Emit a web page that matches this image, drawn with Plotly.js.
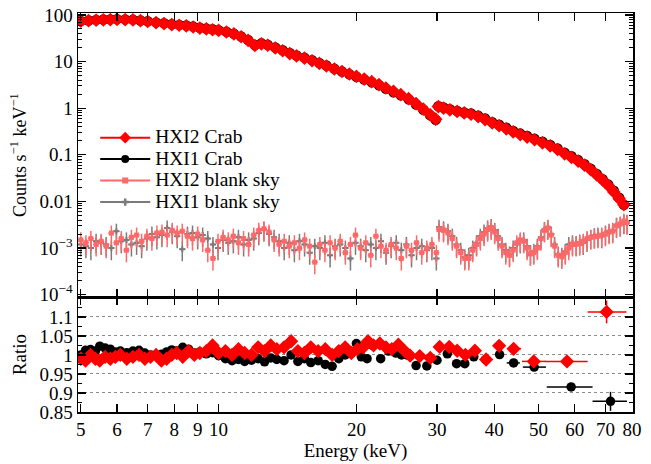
<!DOCTYPE html>
<html>
<head>
<meta charset="utf-8">
<script src="https://cdn.plot.ly/plotly-3.0.1.min.js"></script>
<style>html,body{margin:0;padding:0;background:#fff;}#chart{width:651px;height:464px;}</style>
</head>
<body>
<div id="chart"></div>
<script>
// ---------- Crab spectra (top panel) ----------
const crabEnergy = [5.0,5.2,5.4,5.6,5.8,6.0,6.25,6.5,6.75,7.0,7.3,7.6,7.9,8.2,8.5,8.8,9.1,9.4,9.7,10.0,10.4,10.8,11.2,11.6,12.0,12.4,12.8,13.3,13.8,14.3,14.8,15.4,16.0,16.6,17.2,17.9,18.6,19.3,20.0,20.8,21.6,22.4,23.2,24.1,25.0,26.0,27.0,28.0,29.0,29.8,30.2,31.0,32.0,33.2,34.4,35.6,36.9,38.2,39.6,41.0,42.5,44.0,45.6,47.2,49.0,51.0,53.0,55.0,57.0,59.0,61.0,63.0,65.0,67.0,69.0,71.0,73.0,75.0,76.8];
const hxi2Crab = [73,75,77,78,79,80,79,78,75,72,68,65,62,60,58,55,52,50,48,46.5,43,39,34,28.5,22,23.8,22.3,19.5,17,14.8,13.2,11.8,10.4,9.1,8.0,6.9,6.1,5.4,4.8,4.2,3.7,3.2,2.7,2.3,1.95,1.6,1.25,0.95,0.72,0.58,1.08,1.0,0.92,0.85,0.79,0.74,0.66,0.57,0.48,0.42,0.36,0.31,0.27,0.24,0.21,0.18,0.155,0.13,0.105,0.088,0.073,0.060,0.048,0.037,0.029,0.022,0.016,0.0115,0.0085];
const hxi1Crab = [74,76,78,79.5,80,81,80,79,76,73,69,66,63,61,59,56,53,51,49,47,43.5,39.5,34.5,29,22.5,24.5,22.8,20,17.4,15.2,13.5,12.1,10.7,9.3,8.2,7.0,6.1,5.35,4.7,4.1,3.6,3.1,2.6,2.2,1.88,1.55,1.2,0.92,0.70,0.56,1.1,1.03,0.95,0.87,0.81,0.77,0.69,0.6,0.5,0.44,0.38,0.325,0.285,0.253,0.22,0.19,0.163,0.137,0.111,0.093,0.077,0.063,0.05,0.039,0.03,0.023,0.017,0.012,0.0085];

// ---------- Blank sky spectra (top panel) ----------
const skyEnergy = [5.0,5.13,5.26,5.4,5.54,5.68,5.83,5.98,6.13,6.29,6.45,6.62,6.79,6.97,7.15,7.33,7.52,7.72,7.92,8.12,8.33,8.55,8.77,9.0,9.23,9.47,9.72,9.97,10.23,10.5,10.77,11.05,11.34,11.63,11.93,12.24,12.56,12.89,13.22,13.56,13.91,14.27,14.64,15.02,15.41,15.81,16.22,16.64,17.07,17.52,17.97,18.44,18.92,19.41,19.91,20.43,20.96,21.5,22.06,22.63,23.22,23.82,24.44,25.07,25.72,26.39,27.07,27.78,28.5,29.24,29.9,
  30.3,31.0,31.7,32.4,33.1,33.8,34.5,35.2,35.9,36.6,37.3,38.0,38.7,39.4,40.1,40.8,41.6,42.4,43.2,44.0,44.8,45.6,46.4,47.2,48.0,48.8,49.7,50.6,51.5,52.4,53.3,54.2,55.2,56.2,57.2,58.2,59.3,60.4,61.5,62.6,63.8,65.0,66.2,67.4,68.7,70.0,71.3,72.6,74.0,75.4,76.8,78.0];
const hxi2Sky = [1.5e-3,1.3e-3,1.6e-3,1.2e-3,1.4e-3,1.1e-3,2.1e-3,1.3e-3,1.6e-3,0.9e-3,1.7e-3,1.9e-3,1.4e-3,1.8e-3,1.6e-3,2.1e-3,2.2e-3,1.9e-3,2.4e-3,2.1e-3,2.3e-3,1.8e-3,1.6e-3,2.0e-3,1.5e-3,0.9e-3,0.6e-3,1.4e-3,1.7e-3,1.5e-3,1.8e-3,1.3e-3,1.6e-3,1.2e-3,1.9e-3,2.4e-3,2.6e-3,2.2e-3,1.5e-3,1.2e-3,1.4e-3,1.1e-3,1.3e-3,1.0e-3,1.5e-3,1.1e-3,0.5e-3,1.2e-3,0.9e-3,1.3e-3,1.0e-3,1.4e-3,0.8e-3,1.2e-3,1.9e-3,1.0e-3,1.3e-3,0.7e-3,1.8e-3,1.1e-3,0.9e-3,1.2e-3,1.0e-3,0.6e-3,1.1e-3,0.9e-3,1.3e-3,0.8e-3,1.0e-3,1.2e-3,0.8e-3,
  2.5e-3,2.4e-3,2.1e-3,1.6e-3,1.1e-3,0.8e-3,0.6e-3,0.6e-3,0.9e-3,1.2e-3,1.6e-3,2.0e-3,2.5e-3,2.7e-3,2.2e-3,1.6e-3,1.1e-3,0.8e-3,0.7e-3,0.9e-3,1.3e-3,1.5e-3,1.4e-3,1.0e-3,0.75e-3,0.8e-3,1.0e-3,1.6e-3,2.4e-3,2.7e-3,1.9e-3,1.1e-3,0.7e-3,0.65e-3,0.8e-3,1.0e-3,1.2e-3,1.2e-3,1.25e-3,1.4e-3,1.6e-3,1.7e-3,1.75e-3,1.8e-3,1.9e-3,2.0e-3,2.2e-3,2.3e-3,3.0e-3,3.3e-3,3.8e-3,3.5e-3];
const hxi1Sky = [1.2e-3,1.1e-3,1.0e-3,1.4e-3,1.3e-3,1.2e-3,1.0e-3,2.3e-3,1.4e-3,1.5e-3,1.2e-3,1.3e-3,1.1e-3,1.6e-3,2.0e-3,1.7e-3,1.9e-3,2.7e-3,2.2e-3,1.8e-3,0.95e-3,2.0e-3,2.1e-3,1.7e-3,1.9e-3,1.6e-3,1.2e-3,1.0e-3,1.5e-3,1.3e-3,1.4e-3,1.7e-3,1.2e-3,1.5e-3,1.6e-3,2.1e-3,2.5e-3,2.0e-3,1.7e-3,1.4e-3,1.0e-3,1.3e-3,0.9e-3,1.4e-3,1.2e-3,0.8e-3,1.1e-3,1.0e-3,1.3e-3,0.7e-3,1.1e-3,1.2e-3,1.0e-3,0.6e-3,1.3e-3,1.1e-3,0.9e-3,1.2e-3,1.0e-3,1.4e-3,0.8e-3,1.1e-3,1.3e-3,0.9e-3,1.2e-3,0.7e-3,1.0e-3,1.1e-3,0.9e-3,1.0e-3,0.6e-3,
  2.8e-3,2.6e-3,2.3e-3,1.8e-3,1.2e-3,0.9e-3,0.65e-3,0.7e-3,1.0e-3,1.3e-3,1.8e-3,2.2e-3,2.7e-3,2.9e-3,2.4e-3,1.8e-3,1.2e-3,0.9e-3,0.75e-3,1.0e-3,1.2e-3,1.4e-3,1.5e-3,1.1e-3,0.8e-3,0.85e-3,1.1e-3,1.7e-3,2.5e-3,2.8e-3,2.0e-3,1.2e-3,0.75e-3,0.7e-3,0.85e-3,1.2e-3,1.3e-3,1.25e-3,1.35e-3,1.3e-3,1.5e-3,1.7e-3,1.85e-3,1.9e-3,1.8e-3,2.1e-3,2.3e-3,2.4e-3,3.1e-3,3.2e-3,3.6e-3,3.6e-3];

// ---------- Ratio panel ----------
const hxi2RatioEnergy = [5.0,5.12,5.25,5.38,5.5,5.65,5.8,5.95,6.1,6.3,6.5,6.7,6.9,7.1,7.3,7.5,7.7,7.9,8.1,8.35,8.6,8.85,9.1,9.4,9.7,10.0,10.35,10.7,11.05,11.4,11.8,12.2,12.6,13.0,13.4,13.9,14.4,14.9,15.4,15.9,16.5,17.1,17.7,18.3,18.9,19.5,20.1,20.7,21.2,21.8,22.5,23.2,23.9,24.7,25.5,26.2,27.5,29.0,30.4,31.9,33.2,34.6,36.3,38.4,41.0,44.1,48.8,57.7,70.4];
const hxi2Ratio = [0.99,0.985,1.0,0.99,0.985,0.995,0.99,0.995,1.0,0.99,0.995,1.0,0.99,0.995,1.0,0.985,0.99,1.0,1.005,0.995,1.01,1.0,1.005,1.01,1.025,1.005,1.01,1.0,1.015,1.005,1.0,1.02,1.01,1.025,1.015,1.02,1.036,1.01,1.005,1.02,1.01,1.015,1.0,1.01,1.02,1.005,1.015,1.02,1.036,1.025,1.03,1.02,1.015,1.027,1.01,0.998,0.997,0.992,1.021,1.021,1.011,1.0,1.011,0.988,1.024,1.016,0.983,0.983,1.113];
const hxi2WideLo = [42.9,46.0,51.8,64.0];
const hxi2WideHi = [45.8,51.9,64.0,77.8];
const hxi2WideErr = [0.006,0.007,0.008,0.03];

const hxi1RatioEnergy = [5.0,5.12,5.25,5.38,5.5,5.65,5.8,5.95,6.1,6.3,6.5,6.7,6.9,7.1,7.3,7.5,7.7,7.9,8.1,8.35,8.6,8.85,9.1,9.4,9.7,10.0,10.35,10.7,11.05,11.4,11.8,12.2,12.6,13.0,13.4,13.9,14.4,14.9,15.4,15.9,16.5,17.1,17.7,18.3,18.9,19.5,20.0,20.5,21.1,21.7,22.6,23.5,24.4,25.1,25.8,27.0,28.5,30.0,31.6,33.1,34.5,36.1,38.3,41.1,44.1,48.9,58.9,71.8];
const hxi1Ratio = [1.0,1.012,1.014,1.01,1.023,1.018,1.015,1.008,1.01,1.006,1.01,1.012,1.005,1.0,0.998,1.002,1.008,1.013,1.01,1.02,1.015,1.005,1.008,1.003,1.006,0.998,0.99,0.985,0.988,0.983,0.986,0.99,0.982,0.992,0.988,0.985,1.0,0.983,0.99,0.98,0.985,0.975,0.97,0.99,1.0,1.005,1.03,0.995,0.99,1.025,0.99,1.01,1.005,1.0,1.0,0.972,0.971,0.986,1.003,0.977,0.977,0.995,0.988,1.001,0.979,0.968,0.916,0.878];
const hxi1WideLo = [42.6,46.2,52.1,65.6];
const hxi1WideHi = [45.5,51.9,65.6,78.0];
const hxi1WideErr = [0.006,0.007,0.008,0.025];

// ---------- axis labels ----------
const energyTicks = [5,6,7,8,9,10,20,30,40,50,60,70,80];
const energyTickText = ['5','6','7','8','9','10','20','30','40','50','60','70','80'];
const countTicks = [1e-4,1e-3,0.01,0.1,1,10,100];
const countTickText = ['10<sup>\u22124</sup>','10<sup>\u22123</sup>','0.01','0.1','1','10','100'];
const ratioTicks = [0.85,0.9,0.95,1,1.05,1.1];
const ratioTickText = ['0.85','0.9','0.95','1','1.05','1.1'];
const legendNames = ['HXI2 Crab','HXI1 Crab','HXI2 blank sky','HXI1 blank sky'];

// helpers: build error arrays for the wide high-energy bins
function wideErr(E, lo, hi, yerr, base) {
  const n = E.length, k = lo.length;
  const plus = [], minus = [], ey = [];
  for (let i = 0; i < n; i++) {
    if (i >= n - k) {
      const j = i - (n - k);
      plus.push(hi[j] - E[i]); minus.push(E[i] - lo[j]); ey.push(yerr[j]);
    } else { plus.push(0); minus.push(0); ey.push(base); }
  }
  return {plus, minus, ey};
}
const e2 = wideErr(hxi2RatioEnergy, hxi2WideLo, hxi2WideHi, hxi2WideErr, 0.004);
const e1 = wideErr(hxi1RatioEnergy, hxi1WideLo, hxi1WideHi, hxi1WideErr, 0.004);

const RED = '#ff0000', BLACK = '#000000', PINK = '#ff6868', GRAY = '#7a7a7a';
const FONT = 'Times New Roman, Liberation Serif, DejaVu Serif, serif';

const traces = [
  {x: skyEnergy, y: hxi1Sky, type:'scatter', mode:'markers', xaxis:'x', yaxis:'y', showlegend:false,
   marker:{symbol:'cross', size:5, color:GRAY},
   error_y:{type:'percent', value:45, color:GRAY, thickness:1.5, width:0},
   error_x:{type:'percent', value:1.5, color:GRAY, thickness:1.5, width:0}},
  {x: skyEnergy, y: hxi2Sky, type:'scatter', mode:'markers', xaxis:'x', yaxis:'y', showlegend:false,
   marker:{symbol:'square', size:5, color:PINK},
   error_y:{type:'percent', value:45, color:PINK, thickness:1.5, width:0},
   error_x:{type:'percent', value:1.5, color:PINK, thickness:1.5, width:0}},
  {x: crabEnergy, y: hxi1Crab, type:'scatter', mode:'markers', xaxis:'x', yaxis:'y', showlegend:false,
   marker:{symbol:'circle', size:10.5, color:BLACK},
   error_x:{type:'percent', value:2, color:BLACK, thickness:2, width:0},
   error_y:{type:'percent', value:3, color:BLACK, thickness:1.5, width:0}},
  {x: crabEnergy, y: hxi2Crab, type:'scatter', mode:'markers', xaxis:'x', yaxis:'y', showlegend:false,
   marker:{symbol:'diamond', size:10.5, color:RED},
   error_x:{type:'percent', value:2, color:RED, thickness:3, width:0},
   error_y:{type:'percent', value:3, color:RED, thickness:1.5, width:0}},
  {x: hxi1RatioEnergy, y: hxi1Ratio, type:'scatter', mode:'markers', xaxis:'x2', yaxis:'y2', showlegend:false,
   marker:{symbol:'circle', size:9.5, color:BLACK},
   error_x:{type:'data', symmetric:false, array:e1.plus, arrayminus:e1.minus, color:BLACK, thickness:1.5, width:0},
   error_y:{type:'data', array:e1.ey, color:BLACK, thickness:1.5, width:0}},
  {x: hxi2RatioEnergy, y: hxi2Ratio, type:'scatter', mode:'markers', xaxis:'x2', yaxis:'y2', showlegend:false,
   marker:{symbol:'diamond', size:11, color:RED},
   error_x:{type:'data', symmetric:false, array:e2.plus, arrayminus:e2.minus, color:RED, thickness:1.5, width:0},
   error_y:{type:'data', array:e2.ey, color:RED, thickness:1.5, width:0}}
];

// legend entries (no data points drawn)
const legendStyles = [
  {color:RED, symbol:'diamond', size:9},
  {color:BLACK, symbol:'circle', size:8},
  {color:PINK, symbol:'square', size:6},
  {color:GRAY, symbol:'cross', size:6}
];
legendNames.forEach((name, i) => {
  traces.push({x:[null], y:[null], type:'scatter', mode:'lines+markers',
    name:'<span style="font-size:19.5px">' + name + '</span>', xaxis:'x', yaxis:'y',
    line:{color:legendStyles[i].color, width:2},
    marker:{symbol:legendStyles[i].symbol, size:legendStyles[i].size, color:legendStyles[i].color},
    showlegend:true});
});

const minorCounts = [];
for (let d = -5; d <= 2; d++) for (let k = 2; k <= 9; k++) minorCounts.push(k * Math.pow(10, d));

const xRange = [Math.log10(4.93), Math.log10(80.4)];
const axisCommon = {showline:true, linecolor:'black', linewidth:1.5, mirror:'ticks', ticks:'inside',
  tickcolor:'black', tickwidth:1.3, ticklen:8, zeroline:false, showgrid:false,
  tickfont:{family:FONT, size:19, color:'black'}};

const layout = {
  width:651, height:464,
  margin:{l:78, r:18, t:13, b:52},
  paper_bgcolor:'white', plot_bgcolor:'white',
  font:{family:FONT, size:18, color:'black'},
  showlegend:true,
  legend:{x:0.031, y:0.727, xanchor:'left', yanchor:'top', bgcolor:'rgba(0,0,0,0)',
    font:{family:FONT, size:14.2, color:'black'}, itemwidth:50, tracegroupgap:0},
  xaxis: Object.assign({}, axisCommon, {type:'log', range:xRange, anchor:'y', domain:[0,1],
    tickmode:'array', tickvals:energyTicks, ticktext:energyTickText, showticklabels:false}),
  yaxis: Object.assign({}, axisCommon, {type:'log', range:[-4.05, 2.04], domain:[0.288,1], anchor:'x',
    tickmode:'array', tickvals:countTicks, ticktext:countTickText,
    minor:{tickmode:'array', tickvals:minorCounts, ticks:'inside', ticklen:4, tickcolor:'black', tickwidth:1},
    title:{text:'Counts s<sup>\u22121</sup> keV<sup>\u22121</sup>', font:{family:FONT, size:18}, standoff:8}}),
  xaxis2: Object.assign({}, axisCommon, {type:'log', range:xRange, anchor:'y2', domain:[0,1],
    tickmode:'array', tickvals:energyTicks, ticktext:energyTickText,
    title:{text:'Energy (keV)', font:{family:FONT, size:19}, standoff:4}}),
  yaxis2: Object.assign({}, axisCommon, {range:[0.85, 1.152], domain:[0,0.288], anchor:'x2',
    tickmode:'array', tickvals:ratioTicks, ticktext:ratioTickText,
    showgrid:true, gridcolor:'#8c8c8c', griddash:'dot', gridwidth:1,
    minor:{tickmode:'linear', tick0:0.85, dtick:0.025, ticks:'inside', ticklen:4, tickcolor:'black', tickwidth:1, showgrid:false},
    title:{text:'Ratio', font:{family:FONT, size:19}, standoff:8}})
};

Plotly.newPlot('chart', traces, layout, {staticPlot:true, displayModeBar:false});
</script>
</body>
</html>
